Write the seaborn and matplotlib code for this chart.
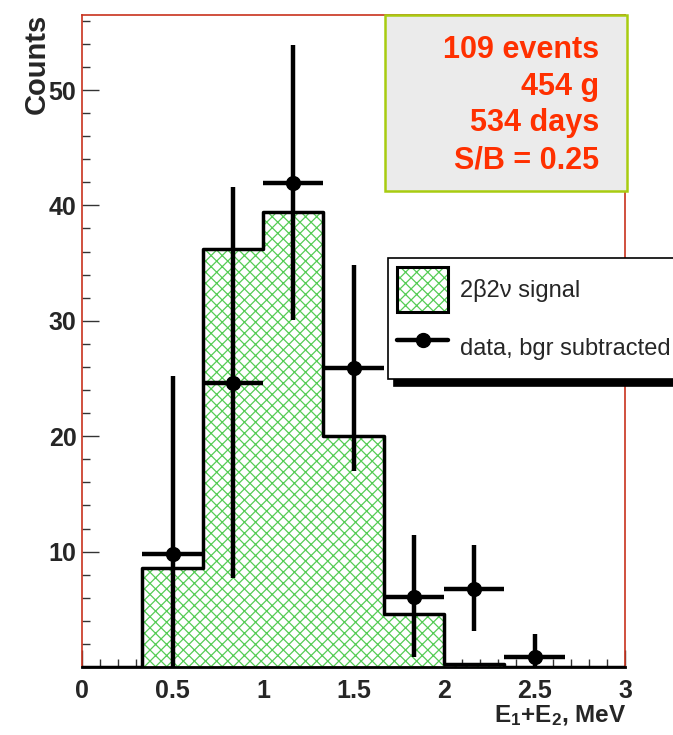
import numpy as np
import matplotlib
matplotlib.use("Agg")
import matplotlib.pyplot as plt
from matplotlib.patches import Patch, Rectangle
from matplotlib.lines import Line2D
from matplotlib.ticker import MultipleLocator, FormatStrFormatter
import seaborn as sns

# --- DATA ---
BIN_EDGES = [0, 1/3, 2/3, 1, 4/3, 5/3, 2, 7/3, 8/3, 3]
SIGNAL = [0, 8.6, 36.2, 39.4, 20.0, 4.6, 0.3, 0, 0]

DATA_X = [0.5, 5/6, 7/6, 1.5, 11/6, 13/6, 2.5]
DATA_Y = [9.8, 24.6, 41.9, 25.9, 6.1, 6.8, 0.9]
DATA_ERR_LO = [12.0, 16.9, 11.8, 8.9, 5.2, 3.7, 1.5]
DATA_ERR_HI = [15.4, 17.0, 12.0, 8.9, 5.3, 3.8, 2.0]

INFO_LINES = ["109 events", "454 g", "534 days", "S/B = 0.25"]
LEGEND_LABELS = ["2\u03b22\u03bd signal", "data, bgr subtracted"]

# --- STYLE ---
HATCH_GREEN = "#55cc55"
FRAME_RED = "#c8321e"
INFO_RED = "#ff3000"

sns.set_style("ticks")
plt.rcParams["font.family"] = ["Liberation Sans", "DejaVu Sans"]
plt.rcParams["mathtext.default"] = "regular"
plt.rcParams["hatch.linewidth"] = 0.9

W, H = 673, 735
fig = plt.figure(figsize=(W / 100, H / 100), dpi=100)
ax = fig.add_axes([82 / W, 1 - 667 / H, (625 - 82) / W, (667 - 15) / H])

edges = np.array(BIN_EDGES)
centers = (edges[:-1] + edges[1:]) / 2
half_w = np.diff(edges)[1:8] / 2

# hatched fill of the signal histogram
ax.stairs(SIGNAL, edges, fill=True, facecolor="white", edgecolor=HATCH_GREEN,
          hatch="xxx", linewidth=0, zorder=1)
# background (zero) histogram, red dashed along the baseline
ax.plot([0, 3], [0, 0], color="red", ls=(0, (4, 3)), lw=1.0, zorder=2)
# signal outline via seaborn
sns.histplot(x=centers, weights=SIGNAL, bins=BIN_EDGES, element="step",
             fill=False, color="black", linewidth=2.5, ax=ax, zorder=3)

# data points
ax.errorbar(DATA_X, DATA_Y, xerr=half_w, yerr=[DATA_ERR_LO, DATA_ERR_HI],
            fmt="none", ecolor="black", elinewidth=3.2, capsize=0, zorder=4)
sns.scatterplot(x=DATA_X, y=DATA_Y, color="black", s=120, edgecolor="black",
                linewidth=0, ax=ax, zorder=5)

ax.set_xlim(0, 3)
ax.set_ylim(0, 56.5)
ax.set_xlabel("")
ax.set_ylabel("")

ax.xaxis.set_major_locator(MultipleLocator(0.5))
ax.xaxis.set_minor_locator(MultipleLocator(0.1))
ax.xaxis.set_major_formatter(FormatStrFormatter("%g"))
ax.yaxis.set_minor_locator(MultipleLocator(2))
ax.set_yticks([10, 20, 30, 40, 50])
ax.tick_params(which="major", direction="in", length=12, width=1.0, color="#333333")
ax.tick_params(which="minor", direction="in", length=6, width=1.0, color="#333333")
ax.tick_params(axis="x", which="major", pad=9)
ax.tick_params(axis="y", which="major", pad=4)
for lbl in ax.get_xticklabels() + ax.get_yticklabels():
    lbl.set_fontsize(18)
    lbl.set_fontweight("bold")

for side in ["left", "top", "right"]:
    ax.spines[side].set_color(FRAME_RED)
    ax.spines[side].set_linewidth(1.2)
ax.spines["bottom"].set_color("black")
ax.spines["bottom"].set_linewidth(2.0)

# axis titles in ROOT style
fig.text(37 / W, 1 - 14 / H, "Counts", rotation=90, ha="center", va="top",
         fontsize=21, fontweight="bold")
fig.text(626 / W, 1 - 716 / H, "E$_1$+E$_2$, MeV", ha="right", va="center",
         fontsize=17.5, fontweight="bold")

# info box
fig.patches.append(Rectangle((385 / W, 1 - 191 / H), (627 - 385) / W, (191 - 15) / H,
                             transform=fig.transFigure, facecolor="#ebebeb",
                             edgecolor="#a8cc10", linewidth=1.8, zorder=10))
for i, line in enumerate(INFO_LINES):
    fig.text(599 / W, 1 - (58 + 36.7 * i) / H, line, ha="right", va="baseline",
             fontsize=22, fontweight="bold", color=INFO_RED, zorder=11)

# legend
sig_hatch = Patch(facecolor="white", edgecolor=HATCH_GREEN, hatch="xxx", linewidth=0)
sig_frame = Patch(facecolor="none", edgecolor="black", linewidth=2.2)
data_handle = Line2D([], [], color="black", lw=3.2, marker="o", markersize=10)
leg = ax.legend(handles=[(sig_hatch, sig_frame), data_handle], labels=LEGEND_LABELS,
                loc="upper left", bbox_to_anchor=((388 - 82) / 543, (667 - 258) / 652),
                borderaxespad=0, frameon=True, fancybox=False, fontsize=17,
                handlelength=2.15, handleheight=2.5, handletextpad=0.5,
                labelspacing=0.6, borderpad=0.4,
                shadow={"ox": 4, "oy": -5, "facecolor": "black",
                        "edgecolor": "black", "alpha": 1})
leg.get_frame().set_edgecolor("black")
leg.get_frame().set_linewidth(1.2)
leg.set_zorder(20)

fig.savefig("out.png", dpi=100)
